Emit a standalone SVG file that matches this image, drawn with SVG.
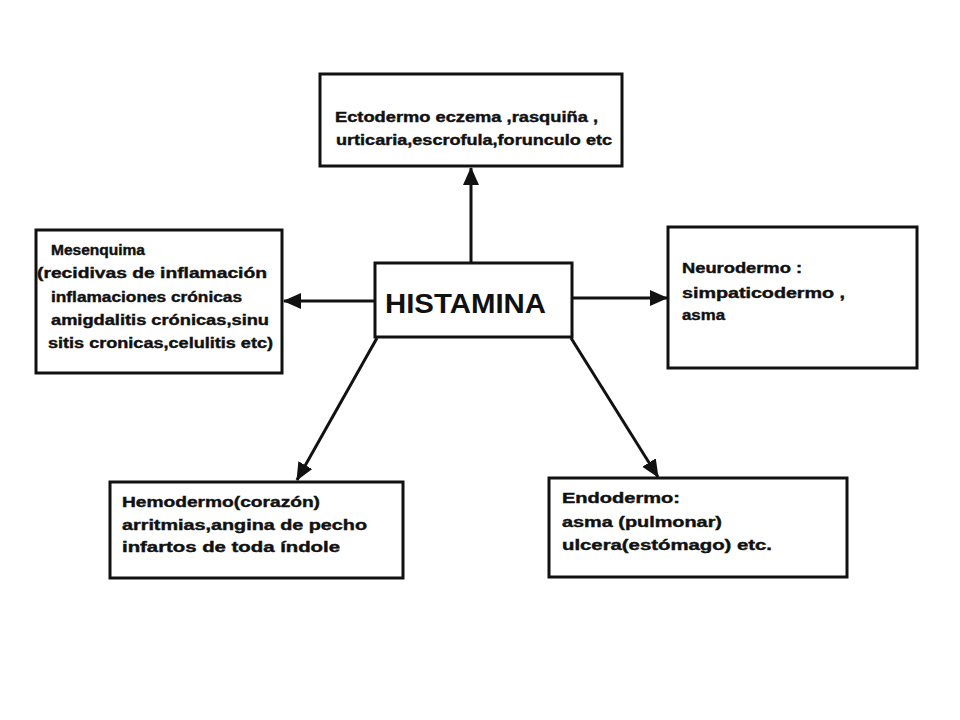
<svg xmlns="http://www.w3.org/2000/svg" width="960" height="720" viewBox="0 0 960 720">
<defs>
<marker id="ah" markerUnits="userSpaceOnUse" markerWidth="18" markerHeight="18" refX="17" refY="9" orient="auto">
<path d="M0,1 L18,9 L0,17 z" fill="#111"/>
</marker>
<style>
.box{fill:#fff;stroke:#111;stroke-width:3}
.t{font-family:"Liberation Sans","DejaVu Sans",Arial,sans-serif;font-weight:bold;font-size:14px;fill:#111;stroke:#111;stroke-width:0.4}
.big{font-family:"Liberation Sans","DejaVu Sans",Arial,sans-serif;font-weight:bold;font-size:27px;fill:#111}
.c{stroke:#111;stroke-width:3;fill:none;marker-end:url(#ah)}
</style>
</defs>
<rect width="960" height="720" fill="#fff"/>
<g id="connectors">
<line class="c" x1="471" y1="263" x2="471" y2="168"/>
<line class="c" x1="375" y1="301" x2="284" y2="301"/>
<line class="c" x1="572" y1="298" x2="667" y2="298"/>
<line class="c" x1="377" y1="338" x2="297" y2="480"/>
<line class="c" x1="571" y1="338" x2="658" y2="477"/>
</g>
<g id="histamina">
<rect class="box" x="375" y="263" width="197" height="74"/>
<text class="big" x="385" y="313" textLength="161" lengthAdjust="spacingAndGlyphs">HISTAMINA</text>
</g>
<g id="ectodermo">
<rect class="box" x="320" y="74" width="302" height="92"/>
<text class="t" x="335" y="122" textLength="263" lengthAdjust="spacingAndGlyphs">Ectodermo eczema ,rasquiña  ,</text>
<text class="t" x="336" y="145" textLength="276" lengthAdjust="spacingAndGlyphs">urticaria,escrofula,forunculo etc</text>
</g>
<g id="mesenquima">
<rect class="box" x="36" y="230" width="246" height="143"/>
<text class="t" x="51" y="255" textLength="94" lengthAdjust="spacingAndGlyphs">Mesenquima</text>
<text class="t" x="37" y="278" textLength="230" lengthAdjust="spacingAndGlyphs">(recidivas de inflamación</text>
<text class="t" x="51" y="302" textLength="191" lengthAdjust="spacingAndGlyphs">inflamaciones crónicas</text>
<text class="t" x="51" y="325" textLength="218" lengthAdjust="spacingAndGlyphs">amigdalitis crónicas,sinu</text>
<text class="t" x="48" y="348" textLength="225" lengthAdjust="spacingAndGlyphs">sitis cronicas,celulitis etc)</text>
</g>
<g id="neurodermo">
<rect class="box" x="668" y="227" width="249" height="141"/>
<text class="t" x="682" y="273" textLength="120" lengthAdjust="spacingAndGlyphs">Neurodermo :</text>
<text class="t" x="682" y="298" textLength="163" lengthAdjust="spacingAndGlyphs">simpaticodermo ,</text>
<text class="t" x="682" y="320" textLength="43" lengthAdjust="spacingAndGlyphs">asma</text>
</g>
<g id="hemodermo">
<rect class="box" x="110" y="482" width="293" height="96"/>
<text class="t" x="122" y="507" textLength="198" lengthAdjust="spacingAndGlyphs">Hemodermo(corazón)</text>
<text class="t" x="122" y="530" textLength="245" lengthAdjust="spacingAndGlyphs">arritmias,angina de pecho</text>
<text class="t" x="122" y="552" textLength="218" lengthAdjust="spacingAndGlyphs">infartos de toda índole</text>
</g>
<g id="endodermo">
<rect class="box" x="549" y="478" width="298" height="99"/>
<text class="t" x="562" y="503" textLength="118" lengthAdjust="spacingAndGlyphs">Endodermo:</text>
<text class="t" x="562" y="527" textLength="160" lengthAdjust="spacingAndGlyphs">asma (pulmonar)</text>
<text class="t" x="562" y="550" textLength="210" lengthAdjust="spacingAndGlyphs">ulcera(estómago) etc.</text>
</g>
</svg>
